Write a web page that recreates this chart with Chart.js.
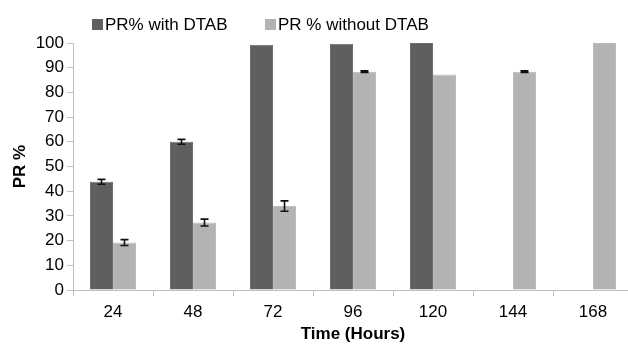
<!DOCTYPE html>
<html>
<head>
<meta charset="utf-8">
<script src="https://cdn.jsdelivr.net/npm/chart.js@4"></script>
<style>
  html, body { margin: 0; padding: 0; background: #fff; overflow: hidden; }
  #wrap { position: relative; width: 640px; height: 346px; }
</style>
</head>
<body>
<div id="wrap"><canvas id="chart" width="640" height="346"></canvas></div>
<script>
// ── Data ──────────────────────────────────────────────────
const hours      = ['24', '48', '72', '96', '120', '144', '168'];
const withDtab   = [43.8, 60.0, 99.3, 99.7, 100, null, null];
const withErr    = [1.0, 1.0, 0, 0, 0, 0, 0];
const withoutDtab = [19.2, 27.3, 34.0, 88.4, 87.2, 88.4, 100];
const withoutErr  = [1.2, 1.4, 2.1, 0.3, 0, 0.3, 0];
const yTicks     = [0, 10, 20, 30, 40, 50, 60, 70, 80, 90, 100];

const FONT = 'Arial, "Liberation Sans", sans-serif';
const FS   = 17;
const AXIS = '#bfbfbf';

// ── Error bars ────────────────────────────────────────────
const errorBars = {
  id: 'errorBars',
  afterDatasetsDraw(chart) {
    const { ctx } = chart;
    const y = chart.scales.y;
    chart.data.datasets.forEach((ds, di) => {
      if (!ds.errors) return;
      const meta = chart.getDatasetMeta(di);
      meta.data.forEach((bar, i) => {
        const v = ds.data[i], e = ds.errors[i];
        if (v == null || !e) return;
        const top = y.getPixelForValue(v + e);
        const bot = y.getPixelForValue(v - e);
        ctx.save();
        ctx.strokeStyle = '#111';
        ctx.lineWidth = 1.6;
        ctx.beginPath();
        ctx.moveTo(bar.x, top); ctx.lineTo(bar.x, bot);
        ctx.moveTo(bar.x - 4, top); ctx.lineTo(bar.x + 4, top);
        ctx.moveTo(bar.x - 4, bot); ctx.lineTo(bar.x + 4, bot);
        ctx.stroke();
        ctx.restore();
      });
    });
  }
};

// ── Legend ────────────────────────────────────────────────
const legendPos = [92, 265];
const topLegend = {
  id: 'topLegend',
  afterDraw(chart) {
    const { ctx } = chart;
    ctx.save();
    ctx.font = FS + 'px ' + FONT;
    ctx.textBaseline = 'middle';
    chart.data.datasets.forEach((ds, i) => {
      const x = legendPos[i];
      ctx.fillStyle = ds.backgroundColor;
      ctx.fillRect(x, 19, 11, 11);
      ctx.fillStyle = '#000';
      ctx.fillText(ds.label, x + 13, 25.5);
    });
    ctx.restore();
  }
};

// ── Chart ─────────────────────────────────────────────────
new Chart(document.getElementById('chart'), {
  type: 'bar',
  data: {
    labels: hours,
    datasets: [
      {
        label: 'PR% with DTAB',
        data: withDtab,
        errors: withErr,
        backgroundColor: '#5f5f5f',
        borderColor: '#6e6e6e',
        borderWidth: 1,
        categoryPercentage: 0.575,
        barPercentage: 1
      },
      {
        label: 'PR % without DTAB',
        data: withoutDtab,
        errors: withoutErr,
        backgroundColor: '#b3b3b3',
        borderColor: '#bcbcbc',
        borderWidth: 1,
        categoryPercentage: 0.575,
        barPercentage: 1
      }
    ]
  },
  options: {
    responsive: false,
    animation: false,
    layout: { padding: { top: 43, right: 7, left: 0, bottom: 0 } },
    plugins: { legend: { display: false }, tooltip: { enabled: false } },
    scales: {
      x: {
        offset: true,
        grid: { offset: true, drawOnChartArea: false, color: AXIS, tickLength: 6 },
        border: { color: AXIS },
        ticks: { color: '#000', font: { family: FONT, size: FS }, padding: 6 },
        title: { display: true, text: 'Time (Hours)', color: '#000',
                 font: { family: FONT, size: FS, weight: 'bold' }, padding: { top: 0, bottom: 1 } },
        afterFit: s => { s.height = 56; }
      },
      y: {
        min: 0, max: 100,
        afterBuildTicks: s => { s.ticks = yTicks.map(v => ({ value: v })); },
        grid: { drawOnChartArea: false, color: AXIS, tickLength: 6 },
        border: { color: AXIS },
        ticks: { color: '#000', font: { family: FONT, size: FS }, padding: 3 },
        title: { display: true, text: 'PR %', color: '#000',
                 font: { family: FONT, size: FS, weight: 'bold' }, padding: { top: 10, bottom: 0 } },
        afterFit: s => { s.width = 73; }
      }
    }
  },
  plugins: [errorBars, topLegend]
});
</script>
</body>
</html>
